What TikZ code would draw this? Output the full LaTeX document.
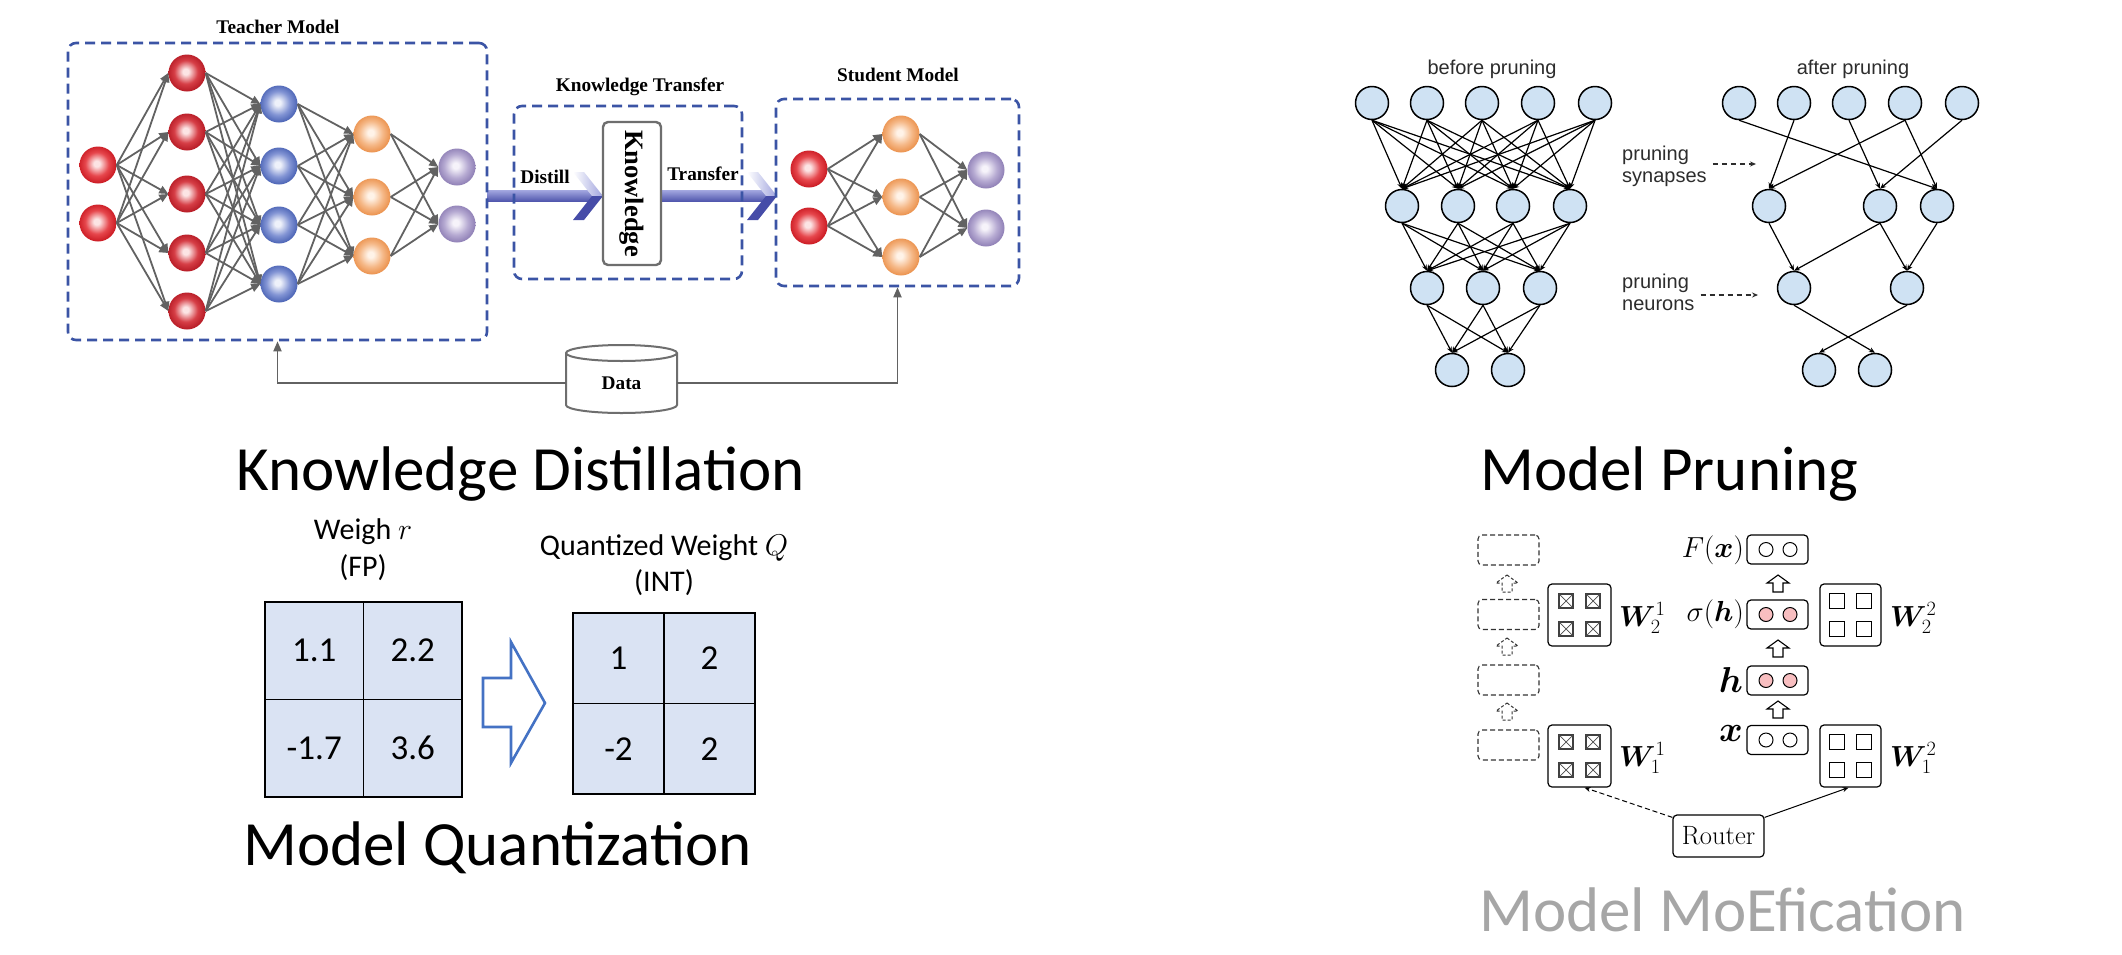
\documentclass[tikz,border=0pt]{standalone}
\usepackage{fix-cm}
\usepackage[no-math]{fontspec}
\usepackage{amsmath}
\usepackage{bm}
\usetikzlibrary{arrows.meta,calc}
\newfontfamily\calfont{Carlito}
\newfontfamily\timesfont{Liberation Serif}
\newfontfamily\arialfont{Liberation Sans}

\definecolor{dashblue}{RGB}{59,84,165}
\definecolor{netgray}{RGB}{98,98,98}
\definecolor{cellblue}{RGB}{218,227,243}
\definecolor{qarrow}{RGB}{68,114,196}
\definecolor{prunefill}{RGB}{207,226,243}
\definecolor{pinkfill}{RGB}{248,190,192}
\definecolor{titlegray}{RGB}{166,166,166}
\definecolor{prunetext}{RGB}{45,45,45}
\definecolor{shafttop}{RGB}{160,164,222}
\definecolor{shaftbot}{RGB}{78,84,172}
\definecolor{armdark}{RGB}{70,76,168}
\definecolor{kboxgray}{RGB}{110,110,110}

\definecolor{redhl}{RGB}{252,228,228}
\definecolor{redmid}{RGB}{230,70,76}
\definecolor{redrim}{RGB}{205,30,38}
\definecolor{red2mid}{RGB}{214,62,70}
\definecolor{red2rim}{RGB}{185,30,40}
\definecolor{bluehl}{RGB}{238,241,250}
\definecolor{bluemid}{RGB}{130,148,212}
\definecolor{bluerim}{RGB}{80,104,184}
\definecolor{orahl}{RGB}{255,243,232}
\definecolor{oramid}{RGB}{245,184,135}
\definecolor{orarim}{RGB}{236,149,82}
\definecolor{purhl}{RGB}{246,243,250}
\definecolor{purmid}{RGB}{182,170,210}
\definecolor{purrim}{RGB}{146,131,184}

\pgfdeclareradialshading{sred}{\pgfpoint{-2bp}{2bp}}{color(0bp)=(redhl); color(4bp)=(redhl); color(16bp)=(redmid); color(25bp)=(redrim); color(50bp)=(redrim)}
\pgfdeclareradialshading{sredb}{\pgfpoint{-2bp}{2bp}}{color(0bp)=(redhl); color(4bp)=(redhl); color(16bp)=(red2mid); color(25bp)=(red2rim); color(50bp)=(red2rim)}
\pgfdeclareradialshading{sblue}{\pgfpoint{-2bp}{2bp}}{color(0bp)=(bluehl); color(4bp)=(bluehl); color(16bp)=(bluemid); color(25bp)=(bluerim); color(50bp)=(bluerim)}
\pgfdeclareradialshading{sorange}{\pgfpoint{-2bp}{2bp}}{color(0bp)=(orahl); color(4bp)=(orahl); color(16bp)=(oramid); color(25bp)=(orarim); color(50bp)=(orarim)}
\pgfdeclareradialshading{spurple}{\pgfpoint{-2bp}{2bp}}{color(0bp)=(purhl); color(4bp)=(purhl); color(16bp)=(purmid); color(25bp)=(purrim); color(50bp)=(purrim)}

% chevron arrow: start x, tip x, y
\newcommand{\chevarrow}[3]{%
  \shade[top color=shafttop, bottom color=shaftbot] (#1,{#3-5.5}) rectangle ({#2-10},{#3+5.5});
  \shade[left color=white, right color=shafttop] ({#2-30},{#3-24}) -- ({#2-19},{#3-24}) -- (#2,#3) -- ({#2-11},#3) -- cycle;
  \fill[armdark] ({#2-11},#3) -- (#2,#3) -- ({#2-19},{#3+24}) -- ({#2-30},{#3+24}) -- cycle;
}
% hollow up block arrow: x, tip y, style
\newcommand{\hup}[3]{\draw[#3] (#1,#2) -- ++(11,8) -- ++(-6,0) -- ++(0,9) -- ++(-10,0) -- ++(0,-9) -- ++(-6,0) -- cycle;}
\newcommand{\xquad}{\foreach \dx in {-13.5,13.5} \foreach \dy in {-14,14} {%
  \draw[line width=1.3, draw=black!75] ({\dx-7},{\dy-7}) rectangle ({\dx+7},{\dy+7});
  \draw[line width=0.7, draw=black!70] ({\dx-7},{\dy-7}) -- ({\dx+7},{\dy+7}) ({\dx-7},{\dy+7}) -- ({\dx+7},{\dy-7});}}
\newcommand{\equad}{\foreach \dx in {-13.5,13.5} \foreach \dy in {-14,14} {%
  \draw[line width=1.3] ({\dx-7.5},{\dy-7.5}) rectangle ({\dx+7.5},{\dy+7.5});}}

\begin{document}
\begin{tikzpicture}[x=1pt,y=-1pt,
  ball/.style={circle, minimum size=37, inner sep=0pt, shade},
  redball/.style={ball, shading=sred},
  redballb/.style={ball, shading=sredb},
  blueball/.style={ball, shading=sblue},
  oraball/.style={ball, shading=sorange},
  purball/.style={ball, shading=spurple},
  tarr/.style={draw=netgray, line width=1.8, -{Triangle[length=9pt,width=8pt]}},
  gline/.style={draw=netgray, line width=1.8, -{Triangle[length=10pt,width=8pt]}},
  dbox/.style={draw=dashblue, line width=2.6, dash pattern=on 10pt off 6pt, rounded corners=8pt, inner sep=0pt},
  ttl/.style={font=\timesfont\bfseries\fontsize{19.3}{22}\selectfont, inner sep=0pt},
  bigt/.style={font=\calfont\fontsize{63}{70}\selectfont, inner sep=0pt, anchor=base west},
  qlab/.style={font=\calfont\fontsize{30}{34}\selectfont, inner sep=0pt},
  cell/.style={draw=black, line width=1.8, fill=cellblue, inner sep=0pt, font=\calfont\fontsize{35}{40}\selectfont},
  pn/.style={circle, draw=black, line width=1.5, fill=prunefill, minimum size=33, inner sep=0pt},
  parr/.style={draw=black, line width=1.2, -{Stealth[length=6pt,width=5pt]}},
  plab/.style={font=\arialfont\fontsize{20}{22}\selectfont, text=prunetext, inner sep=0pt},
  pdash/.style={draw=prunetext, line width=1.2, dash pattern=on 5pt off 4pt, -{Stealth[length=6pt,width=5pt]}},
  mbox/.style={draw=black, line width=1.2, rounded corners=4pt, inner sep=0pt},
  mdbox/.style={draw=black!80, line width=1.1, dash pattern=on 5pt off 3pt, rounded corners=4pt, inner sep=0pt, minimum width=61, minimum height=30},
  mlab/.style={font=\fontsize{29}{33}\selectfont, inner sep=0pt},
  mbig/.style={font=\fontsize{36}{40}\selectfont, inner sep=0pt},
]
\useasboundingbox (0,0) rectangle (2122,954);
\fill[white] (0,0) rectangle (2122,954);

%%%%%%%%%%%%%%%% Knowledge distillation %%%%%%%%%%%%%%%%
% teacher network
\foreach \y [count=\i] in {165,223} \node[redball] (ta\i) at (98,\y) {};
\foreach \y [count=\i] in {73,132,194,253,311} \node[redballb] (tb\i) at (187,\y) {};
\foreach \y [count=\i] in {104,166,225,284} \node[blueball] (tc\i) at (279,\y) {};
\foreach \y [count=\i] in {134,197,256} \node[oraball] (td\i) at (372,\y) {};
\foreach \y [count=\i] in {167,224} \node[purball] (te\i) at (457,\y) {};
\foreach \i in {1,2} \foreach \j in {1,...,5} \draw[tarr] (ta\i.east) -- (tb\j.west);
\foreach \i in {1,...,5} \foreach \j in {1,...,4} \draw[tarr] (tb\i.east) -- (tc\j.west);
\foreach \i in {1,...,4} \foreach \j in {1,...,3} \draw[tarr] (tc\i.east) -- (td\j.west);
\foreach \i in {1,...,3} \foreach \j in {1,2} \draw[tarr] (td\i.east) -- (te\j.west);

% student network
\foreach \y [count=\i] in {169,226} \node[redball] (sa\i) at (809,\y) {};
\foreach \y [count=\i] in {134,197,257} \node[oraball] (sb\i) at (901,\y) {};
\foreach \y [count=\i] in {170,228} \node[purball] (sc\i) at (986,\y) {};
\foreach \i in {1,2} \foreach \j in {1,...,3} \draw[tarr] (sa\i.east) -- (sb\j.west);
\foreach \i in {1,...,3} \foreach \j in {1,2} \draw[tarr] (sb\i.east) -- (sc\j.west);

% distill / transfer arrows
\chevarrow{487}{603}{196}
\chevarrow{661}{777}{196}

% dashed boxes
\node[dbox, minimum width=419, minimum height=297] (teach) at (277.5,191.5) {};
\node[dbox, minimum width=228, minimum height=173] (kt) at (628,192.5) {};
\node[dbox, minimum width=243, minimum height=187] (stud) at (897.5,192.5) {};

% knowledge box
\node[draw=kboxgray, line width=2.4, rounded corners=5pt, fill=white, minimum width=58, minimum height=143, inner sep=0pt] (know) at (632,193.5)
  {\rotatebox{-90}{\timesfont\bfseries\fontsize{26.5}{30}\selectfont Knowledge}};

% titles
\node[ttl] (tteach) at (278,27) {Teacher Model};
\node[ttl] (tkt) at (640,87) {Knowledge Transfer};
\node[ttl] (tstud) at (898,75) {Student Model};
\node[ttl] (ldist) at (545,177) {Distill};
\node[ttl] (ltrans) at (703,174) {Transfer};

% data cylinder
\draw[draw=kboxgray, line width=2, fill=white] (566,353) -- (566,405) arc[start angle=180, end angle=0, x radius=55.5, y radius=8]
  -- (677,353) arc[start angle=360, end angle=180, x radius=55.5, y radius=8] -- cycle;
\draw[draw=kboxgray, line width=2] (566,353) arc[start angle=180, end angle=0, x radius=55.5, y radius=8];
\node[ttl, minimum width=111, minimum height=40] (data) at (621.5,383) {Data};
\draw[gline] (data.west) -| (teach.south);
\draw[gline] (data.east) -| (stud.south);

\node[bigt] (tkd) at (236,490) {Knowledge Distillation};

%%%%%%%%%%%%%%%% Quantization %%%%%%%%%%%%%%%%
\node[qlab] (wr) at (363,532) {Weigh $r$};
\node[qlab] (wfp) at (363,568) {(FP)};
\node[cell, minimum width=98.5, minimum height=97.5] (l11) at (314.25,650.75) {1.1};
\node[cell, minimum width=98.5, minimum height=97.5] (l12) at (412.75,650.75) {2.2};
\node[cell, minimum width=98.5, minimum height=97.5] (l21) at (314.25,748.25) {-1.7};
\node[cell, minimum width=98.5, minimum height=97.5] (l22) at (412.75,748.25) {3.6};

\draw[draw=qarrow, line width=2.6, line join=miter] (483,678) -- (511,678) -- (511,642) -- (545,703) -- (511,763) -- (511,727) -- (483,727) -- cycle;

\node[qlab] (wq) at (664,548) {Quantized Weight $Q$};
\node[qlab] (wint) at (664,583) {(INT)};
\node[cell, minimum width=91, minimum height=90.5] (r11) at (618.5,658.25) {1};
\node[cell, minimum width=91, minimum height=90.5] (r12) at (709.5,658.25) {2};
\node[cell, minimum width=91, minimum height=90.5] (r21) at (618.5,748.75) {-2};
\node[cell, minimum width=91, minimum height=90.5] (r22) at (709.5,748.75) {2};

\node[bigt] (tmq) at (243,865) {Model Quantization};

%%%%%%%%%%%%%%%% Pruning %%%%%%%%%%%%%%%%
\foreach \x [count=\i] in {1372,1427,1482,1538,1595} \node[pn] (pa\i) at (\x,103) {};
\foreach \x [count=\i] in {1402,1458,1513,1570} \node[pn] (pb\i) at (\x,206) {};
\foreach \x [count=\i] in {1427,1483,1540} \node[pn] (pc\i) at (\x,288) {};
\foreach \x [count=\i] in {1452,1508} \node[pn] (pd\i) at (\x,370) {};
\foreach \i in {1,...,5} \foreach \j in {1,...,4} \draw[parr] (pa\i.south) -- (pb\j.north);
\foreach \i in {1,...,4} \foreach \j in {1,...,3} \draw[parr] (pb\i.south) -- (pc\j.north);
\foreach \i in {1,...,3} \foreach \j in {1,2} \draw[parr] (pc\i.south) -- (pd\j.north);

\foreach \x [count=\i] in {1739,1794,1849,1905,1962} \node[pn] (qa\i) at (\x,103) {};
\node[pn] (qb1) at (1769,206) {};
\node[pn] (qb3) at (1880,206) {};
\node[pn] (qb4) at (1937,206) {};
\node[pn] (qc1) at (1794,288) {};
\node[pn] (qc3) at (1907,288) {};
\node[pn] (qd1) at (1819,370) {};
\node[pn] (qd2) at (1875,370) {};
\foreach \a/\b in {qa1/qb4, qa2/qb1, qa3/qb3, qa4/qb1, qa4/qb4, qa5/qb3, qb1/qc1, qb3/qc1, qb3/qc3, qb4/qc3, qc1/qd2, qc3/qd1}
  \draw[parr] (\a.south) -- (\b.north);

\node[plab] (lbefore) at (1492,69) {before pruning};
\node[plab] (lafter) at (1853,69) {after pruning};
\node[plab, anchor=west, align=left] (lsyn) at (1622,166) {pruning\\synapses};
\node[plab, anchor=west, align=left] (lneu) at (1622,292) {pruning\\neurons};
\draw[pdash] ([xshift=6]lsyn.east |- 0,164) -- (1756,164);
\draw[pdash] ([xshift=6]lneu.east |- 0,295) -- (1758,295);

\node[bigt] (tmp) at (1480,490) {Model Pruning};

%%%%%%%%%%%%%%%% MoEfication %%%%%%%%%%%%%%%%
\node[mdbox] (e1) at (1508.5,550) {};
\node[mdbox] (e2) at (1508.5,614.5) {};
\node[mdbox] (e3) at (1508.5,680) {};
\node[mdbox] (e4) at (1508.5,745) {};
\hup{1507}{575}{draw=black!80, line width=1, dash pattern=on 3pt off 2pt}
\hup{1507}{638}{draw=black!80, line width=1, dash pattern=on 3pt off 2pt}
\hup{1507}{703}{draw=black!80, line width=1, dash pattern=on 3pt off 2pt}

\node[mbox, minimum width=63, minimum height=62] (w21) at (1579.5,615) {};
\begin{scope}[shift={(1579.5,615)}] \xquad \end{scope}
\node[mbox, minimum width=63, minimum height=62] (w11) at (1579.5,756) {};
\begin{scope}[shift={(1579.5,756)}] \xquad \end{scope}
\node[mlab, anchor=west] (lw21) at (1619,618) {$\bm{W}_2^1$};
\node[mlab, anchor=west] (lw11) at (1619,758) {$\bm{W}_1^1$};

\node[mbox, minimum width=61, minimum height=29] (mf) at (1777.5,549.5) {};
\node[mbox, minimum width=61, minimum height=29] (ms) at (1777.5,614.5) {};
\node[mbox, minimum width=61, minimum height=29] (mh) at (1777.5,680.5) {};
\node[mbox, minimum width=61, minimum height=29] (mx) at (1777.5,740) {};
\foreach \cx in {1766,1790} {
  \draw[line width=1] (\cx,549.5) circle[radius=7];
  \draw[line width=1, fill=pinkfill] (\cx,614.5) circle[radius=7];
  \draw[line width=1, fill=pinkfill] (\cx,680.5) circle[radius=7];
  \draw[line width=1] (\cx,740) circle[radius=7];
}
\hup{1778}{575}{draw=black, line width=1.1}
\hup{1778}{640}{draw=black, line width=1.1}
\hup{1778}{701}{draw=black, line width=1.1}
\node[mlab, anchor=east] (lf) at (1744,550) {$F(\bm{x})$};
\node[mlab, anchor=east] (ls) at (1744,614) {$\sigma(\bm{h})$};
\node[mbig, anchor=east] (lh) at (1743,680) {$\bm{h}$};
\node[mbig, anchor=east] (lx) at (1743,733) {$\bm{x}$};

\node[mbox, minimum width=61, minimum height=62] (w22) at (1850.5,615) {};
\begin{scope}[shift={(1850.5,615)}] \equad \end{scope}
\node[mbox, minimum width=61, minimum height=62] (w12) at (1850.5,756) {};
\begin{scope}[shift={(1850.5,756)}] \equad \end{scope}
\node[mlab, anchor=west] (lw22) at (1890,618) {$\bm{W}_2^2$};
\node[mlab, anchor=west] (lw12) at (1890,758) {$\bm{W}_1^2$};

\node[mbox, minimum width=91, minimum height=42, font=\fontsize{26.5}{30}\selectfont] (router) at (1718.5,836) {Router};
\draw[draw=black, line width=1, dash pattern=on 5pt off 3pt, -{Stealth[length=6pt,width=5pt]}] ([yshift=-3]router.north west) -- ([xshift=5]w11.south);
\draw[draw=black, line width=1, -{Stealth[length=6pt,width=5pt]}] ([yshift=-3]router.north east) -- ([xshift=-2]w12.south);

\node[bigt, text=titlegray] (tmm) at (1479,931) {Model MoEfication};
\end{tikzpicture}
\end{document}
